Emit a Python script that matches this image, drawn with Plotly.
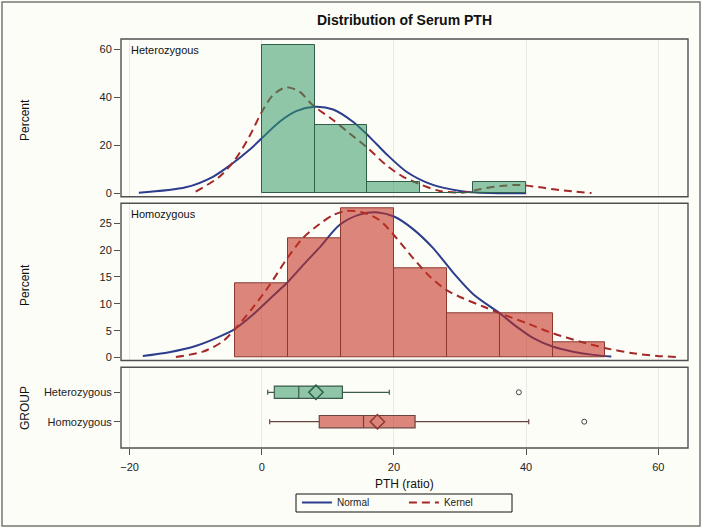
import plotly.graph_objects as go

# ---------------- data ----------------
groups = ["Heterozygous", "Homozygous"]
bin_width = 8

het_bin_centers = [4, 12, 20, 28, 36]
het_pct = [61.9, 28.6, 4.8, 0.0, 4.8]

hom_bin_centers = [0, 8, 16, 24, 32, 40, 48]
hom_pct = [13.9, 22.2, 27.8, 16.7, 8.3, 8.3, 2.8]

het_normal_x = [-18.6, -11.5, -7.4, -4.4, -1.9, 0.15, 2.7, 5.2, 8.0, 10.8, 13.8, 16.3, 18.8, 21.9, 25.9, 30.0, 32.5, 36.0, 40.0]
het_normal_y = [0.25, 2.5, 6.9, 12.5, 18.0, 23.3, 29.8, 34.2, 36.0, 34.9, 29.8, 23.5, 16.5, 9.0, 3.5, 1.0, 0.3, 0.05, 0.0]

het_kernel_x = [-10.0, -6.4, -4.1, -1.9, -0.1, 1.7, 3.7, 5.7, 7.7, 10.8, 13.3, 16.1, 18.8, 21.4, 24.2, 26.9, 30.5, 33.0, 36.0, 39.0, 42.1, 45.0, 49.9]
het_kernel_y = [0.7, 6.9, 13.8, 23.5, 33.3, 40.9, 44.1, 42.3, 36.7, 30.5, 24.9, 18.7, 11.8, 6.9, 3.5, 1.0, 0.3, 1.7, 3.0, 3.5, 2.5, 1.4, 0.1]

hom_normal_x = [-18.0, -14.0, -9.9, -6.4, -4.1, -1.4, 1.2, 3.9, 6.7, 8.7, 11.8, 14.8, 17.6, 20.1, 22.9, 25.9, 28.9, 32.0, 36.0, 38.5, 41.1, 44.1, 47.1, 50.2, 52.9]
hom_normal_y = [0.3, 1.0, 2.2, 3.9, 5.3, 7.9, 10.9, 14.0, 17.8, 20.4, 24.7, 26.6, 27.0, 26.2, 23.9, 20.4, 15.9, 11.8, 8.25, 5.8, 3.6, 2.0, 1.1, 0.5, 0.2]

hom_kernel_x = [-13.0, -8.9, -5.9, -3.9, -1.4, 1.2, 3.7, 6.2, 8.7, 10.8, 12.8, 15.3, 17.8, 20.4, 22.9, 25.4, 27.9, 30.5, 33.5, 36.0, 40.1, 44.1, 48.1, 52.2, 56.2, 59.8, 63.0]
hom_kernel_y = [0.1, 1.1, 3.0, 5.5, 9.2, 13.5, 18.2, 22.2, 24.8, 26.5, 27.3, 27.0, 25.6, 22.2, 18.5, 15.1, 12.6, 11.0, 9.5, 8.25, 6.4, 4.5, 3.0, 1.7, 0.8, 0.3, 0.1]

box_lowerfence = [0.9, 1.2]
box_q1 = [1.9, 8.7]
box_median = [5.6, 15.4]
box_q3 = [12.2, 23.2]
box_upperfence = [19.3, 40.4]
box_mean = [8.2, 17.5]
box_outlier = [38.9, 48.8]

x_ticks = [-20, 0, 20, 40, 60]
het_y_ticks = [0, 20, 40, 60]
hom_y_ticks = [0, 5, 10, 15, 20, 25]

# ---------------- styling ----------------
FONT = "Liberation Sans, Arial, sans-serif"
BG = "#fdfdf7"
FRAME = "#505050"
GRID = "#e8e8e4"
NORMAL_C = "#2b3d8c"
KERNEL_C = "#a42828"
GREEN_FILL = "rgba(51,153,102,0.55)"
GREEN_LINE = "#2f5f48"
RED_FILL = "rgba(197,48,33,0.58)"
RED_LINE = "#8c3a30"

fig = go.Figure()

# top panel (Heterozygous)
fig.add_trace(go.Scatter(x=het_normal_x, y=het_normal_y, mode="lines", name="Normal",
                         line=dict(color=NORMAL_C, width=2, shape="spline", smoothing=0.8),
                         xaxis="x3", yaxis="y3", showlegend=True, legendrank=1))
fig.add_trace(go.Scatter(x=het_kernel_x, y=het_kernel_y, mode="lines", name="Kernel",
                         line=dict(color=KERNEL_C, width=2, dash="8px,5px", shape="spline", smoothing=0.8),
                         xaxis="x3", yaxis="y3", showlegend=True, legendrank=2))
fig.add_trace(go.Bar(x=het_bin_centers, y=het_pct, width=bin_width,
                     marker=dict(color=GREEN_FILL, line=dict(color=GREEN_LINE, width=1)),
                     xaxis="x3", yaxis="y3", showlegend=False, zorder=1))

# middle panel (Homozygous)
fig.add_trace(go.Scatter(x=hom_normal_x, y=hom_normal_y, mode="lines", name="Normal",
                         line=dict(color=NORMAL_C, width=2, shape="spline", smoothing=0.8),
                         xaxis="x2", yaxis="y2", showlegend=False))
fig.add_trace(go.Scatter(x=hom_kernel_x, y=hom_kernel_y, mode="lines", name="Kernel",
                         line=dict(color=KERNEL_C, width=2, dash="8px,5px", shape="spline", smoothing=0.8),
                         xaxis="x2", yaxis="y2", showlegend=False))
fig.add_trace(go.Bar(x=hom_bin_centers, y=hom_pct, width=bin_width,
                     marker=dict(color=RED_FILL, line=dict(color=RED_LINE, width=1)),
                     xaxis="x2", yaxis="y2", showlegend=False, zorder=1))

# box panel
box_fills = [GREEN_FILL, RED_FILL]
box_lines = ["#3b5a4a", "#6a4540"]
mean_colors = [GREEN_LINE, RED_LINE]
for i, g in enumerate(groups):
    fig.add_trace(go.Box(y=[g], q1=[box_q1[i]], median=[box_median[i]], q3=[box_q3[i]],
                         lowerfence=[box_lowerfence[i]], upperfence=[box_upperfence[i]],
                         orientation="h", fillcolor=box_fills[i],
                         line=dict(color=box_lines[i], width=1.2), width=0.42, whiskerwidth=0.4,
                         boxpoints=False, xaxis="x", yaxis="y", showlegend=False))
    fig.add_trace(go.Scatter(x=[box_mean[i]], y=[g], mode="markers",
                             marker=dict(symbol="diamond-open", size=11, color=mean_colors[i],
                                         line=dict(width=1.5, color=mean_colors[i])),
                             xaxis="x", yaxis="y", showlegend=False))
    fig.add_trace(go.Scatter(x=[box_outlier[i]], y=[g], mode="markers",
                             marker=dict(symbol="circle-open", size=5, color="#444",
                                         line=dict(width=1, color="#444")),
                             xaxis="x", yaxis="y", showlegend=False))

xrange = [-21.3, 64.5]
common_x = dict(range=xrange, showline=False, showgrid=True, gridcolor=GRID, gridwidth=1,
                zeroline=False, tickvals=x_ticks)
common_y = dict(showline=False, showgrid=False, zeroline=False, ticks="outside", ticklen=6,
                tickcolor=FRAME, tickfont=dict(size=11, color="#222"))

fig.update_layout(
    width=702, height=528,
    margin=dict(l=121, r=14, t=39, b=80),
    paper_bgcolor=BG, plot_bgcolor=BG,
    font=dict(family=FONT, size=11, color="#222"),
    title=dict(text="<b>Distribution of Serum PTH</b>", x=0.5, xref="paper", xanchor="center",
               y=1 - 20 / 528, yref="container", yanchor="middle",
               font=dict(size=14, color="#111", family=FONT)),
    bargap=0,
    xaxis=dict(**common_x, anchor="y", domain=[0, 1], ticks="outside", ticklen=6, tickcolor=FRAME,
               ticklabelstandoff=3, tickfont=dict(size=11, color="#222")),
    xaxis2=dict(**common_x, anchor="y2", matches="x", showticklabels=False, ticks=""),
    xaxis3=dict(**common_x, anchor="y3", matches="x", showticklabels=False, ticks=""),
    yaxis=dict(**common_y, anchor="x", domain=[0, 0.1973], type="category",
               categoryorder="array", categoryarray=groups, range=[1.895, -0.85]),
    yaxis2=dict(**common_y, anchor="x2", domain=[0.2139, 0.5983], range=[-0.55, 28.7],
                tickvals=hom_y_ticks),
    yaxis3=dict(**common_y, anchor="x3", domain=[0.6144, 1.0], range=[-1.4, 64.2],
                tickvals=het_y_ticks),
    legend=dict(orientation="h", x=0.499, xanchor="center",
                y=1 - 488 / 528, yref="container", yanchor="top",
                bgcolor="rgba(0,0,0,0)", borderwidth=0, tracegroupgap=0,
                font=dict(size=10, color="#222", family=FONT), entrywidth=62),
)

# legend border box
fig.add_shape(type="rect", xref="paper", yref="paper",
              x0=(296 - 121) / 567, x1=(512 - 121) / 567,
              y0=(448 - 512) / 409, y1=(448 - 494) / 409,
              line=dict(color="#111", width=1), fillcolor="rgba(0,0,0,0)", layer="below")

# panel frames
for ax in ["", "2", "3"]:
    fig.add_shape(type="rect", xref=f"x{ax} domain", yref=f"y{ax} domain",
                  x0=0, x1=1, y0=0, y1=1, line=dict(color=FRAME, width=1.4),
                  fillcolor="rgba(0,0,0,0)", layer="above")

# panel labels and axis titles
fig.add_annotation(text="Heterozygous", xref="x3 domain", yref="y3 domain", x=0.014, y=0.93,
                   xanchor="left", yanchor="middle", showarrow=False, font=dict(size=11, color="#111"))
fig.add_annotation(text="Homozygous", xref="x2 domain", yref="y2 domain", x=0.014, y=0.932,
                   xanchor="left", yanchor="middle", showarrow=False, font=dict(size=11, color="#111"))
for txt, ypx in [("Percent", 120), ("Percent", 285), ("GROUP", 408)]:
    fig.add_annotation(text=txt, xref="paper", yref="paper", x=(25 - 121) / 567,
                       y=(448 - ypx) / 409, textangle=-90, xanchor="center", yanchor="middle",
                       showarrow=False, font=dict(size=12, color="#111"))
fig.add_annotation(text="PTH (ratio)", xref="paper", yref="paper", x=0.5, y=(448 - 484) / 409,
                   xanchor="center", yanchor="middle", showarrow=False, font=dict(size=12, color="#111"))

# outer frame
fig.add_shape(type="rect", xref="paper", yref="paper",
              x0=(2 - 121) / 567, x1=(700 - 121) / 567, y0=(448 - 526) / 409, y1=(448 - 2) / 409,
              line=dict(color="#777", width=1.5), fillcolor="rgba(0,0,0,0)", layer="below")

fig.write_html("out.html", config={"displayModeBar": False},
               post_script="document.body.style.margin='0px';")
